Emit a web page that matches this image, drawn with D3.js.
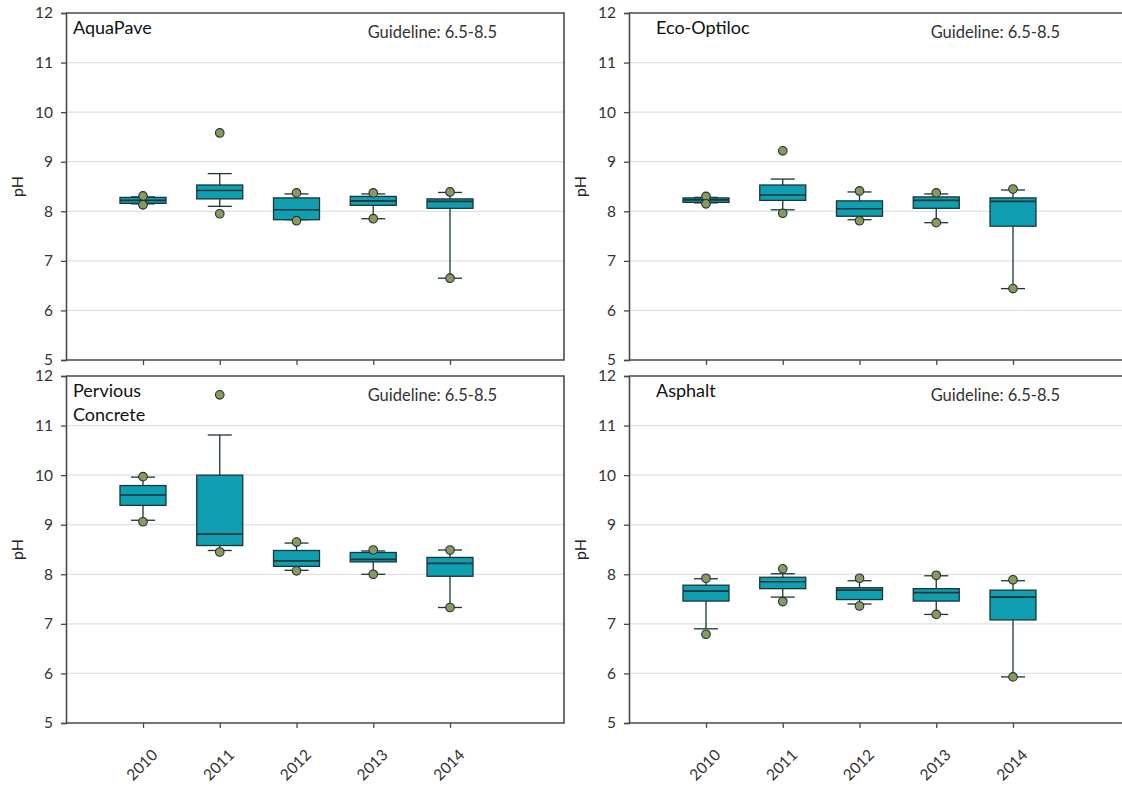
<!DOCTYPE html>
<html>
<head>
<meta charset="utf-8">
<script src="https://cdn.jsdelivr.net/npm/d3@7/dist/d3.min.js"></script>
<style>
  body { margin: 0; background: #fff; }
  svg { display: block; font-family: Lato, "Open Sans", sans-serif; }
</style>
</head>
<body>
<div id="chart"></div>
<script>
// pH box plots per pavement type, 2010-2014
// each row: [whisker low, q1, median, q3, whisker high, [dots]]
const years = ["2010", "2011", "2012", "2013", "2014"];
const yTicks = [5, 6, 7, 8, 9, 10, 11, 12];
const panelNames = [["AquaPave"], ["Eco-Optiloc"], ["Pervious", "Concrete"], ["Asphalt"]];
const guideline = "Guideline: 6.5-8.5";

const aquaPave = [
  [8.15, 8.16, 8.22, 8.28, 8.29, [8.31, 8.13]],
  [8.10, 8.25, 8.42, 8.53, 8.76, [9.58, 7.95]],
  [7.83, 7.83, 8.03, 8.27, 8.35, [8.37, 7.81]],
  [7.85, 8.12, 8.21, 8.30, 8.35, [8.37, 7.85]],
  [6.65, 8.06, 8.20, 8.25, 8.38, [8.39, 6.65]]
];
const ecoOptiloc = [
  [8.17, 8.18, 8.23, 8.27, 8.28, [8.30, 8.15]],
  [8.03, 8.22, 8.33, 8.53, 8.65, [9.22, 7.96]],
  [7.83, 7.90, 8.05, 8.21, 8.39, [8.41, 7.81]],
  [7.77, 8.06, 8.22, 8.29, 8.35, [8.37, 7.77]],
  [6.44, 7.70, 8.20, 8.27, 8.43, [8.45, 6.44]]
];
const perviousConcrete = [
  [9.09, 9.39, 9.60, 9.79, 9.96, [9.97, 9.06]],
  [8.48, 8.58, 8.81, 10.00, 10.81, [11.62, 8.45]],
  [8.08, 8.16, 8.27, 8.48, 8.63, [8.65, 8.07]],
  [8.00, 8.25, 8.30, 8.44, 8.47, [8.49, 8.00]],
  [7.33, 7.96, 8.22, 8.34, 8.49, [8.49, 7.33]]
];
const asphalt = [
  [6.90, 7.46, 7.66, 7.78, 7.91, [7.92, 6.79]],
  [7.54, 7.71, 7.85, 7.94, 8.01, [8.11, 7.45]],
  [7.40, 7.49, 7.68, 7.73, 7.87, [7.92, 7.36]],
  [7.19, 7.46, 7.63, 7.71, 7.97, [7.98, 7.19]],
  [5.93, 7.08, 7.54, 7.68, 7.87, [7.89, 5.93]]
];
const panelData = [aquaPave, ecoOptiloc, perviousConcrete, asphalt];

// layout
const W = 1122, H = 786;
const pw = 498, ph = 347;
const panelPos = [
  { x: 66, y: 13, titleX: 7, labels: false },
  { x: 629, y: 13, titleX: 27, labels: false },
  { x: 66, y: 376, titleX: 7, labels: true },
  { x: 629, y: 376, titleX: 27, labels: true }
];

const boxFill = "#0f9fb0";
const dark = "#1c3539";
const dotFill = "#8d995a";
const axisColor = "#4a4a4a";

const svg = d3.select("#chart").append("svg")
    .attr("width", W)
    .attr("height", H);

const x = d3.scalePoint().domain(years).range([77, 384]);
const y = d3.scaleLinear().domain([5, 12]).range([ph, 0]);

panelData.forEach(function (rows, i) {
    const pos = panelPos[i];
    const g = svg.append("g").attr("transform", "translate(" + pos.x + "," + pos.y + ")");

    // grid
    g.selectAll("line.grid")
        .data(yTicks.filter(function (t) { return t > 5 && t < 12; }))
        .enter().append("line")
        .attr("class", "grid")
        .attr("x1", 0).attr("x2", pw)
        .attr("y1", function (d) { return y(d); })
        .attr("y2", function (d) { return y(d); })
        .attr("stroke", "#e2e2e2")
        .attr("stroke-width", 1.2);

    // frame: top, right and bottom
    g.append("path")
        .attr("d", "M0,0H" + pw + "V" + ph + "H0")
        .attr("fill", "none")
        .attr("stroke", axisColor)
        .attr("stroke-width", 1.6);

    // axes
    const yAxis = g.append("g")
        .call(d3.axisLeft(y).tickValues(yTicks).tickSize(5).tickPadding(8).tickFormat(d3.format("d")));
    const xAxis = g.append("g")
        .attr("transform", "translate(0," + ph + ")")
        .call(d3.axisBottom(x).tickSize(5).tickFormat(pos.labels ? null : ""));
    xAxis.select(".domain").remove();
    [yAxis, xAxis].forEach(function (a) {
        a.select(".domain").attr("stroke", axisColor).attr("stroke-width", 1.6);
        a.selectAll(".tick line").attr("stroke", axisColor).attr("stroke-width", 1.3);
        a.selectAll("text").attr("fill", "#333").style("font-size", "15.5px")
            .style("font-family", "Lato, 'Open Sans', sans-serif");
    });
    if (pos.labels) {
        xAxis.selectAll("text")
            .attr("text-anchor", "end")
            .attr("x", 0).attr("y", 0)
            .attr("dy", null)
            .attr("transform", "translate(15,33) rotate(-45)");
    }

    // y title
    g.append("text")
        .attr("transform", "translate(-43," + (ph / 2) + ") rotate(-90)")
        .attr("text-anchor", "middle")
        .attr("fill", "#222")
        .style("font-size", "16px")
        .text("pH");

    // panel title
    g.append("text")
        .attr("x", pos.titleX)
        .attr("y", 21)
        .attr("fill", "#111")
        .style("font-size", "18px")
        .selectAll("tspan")
        .data(panelNames[i])
        .enter().append("tspan")
        .attr("x", pos.titleX)
        .attr("dy", function (d, j) { return j === 0 ? 0 : 24; })
        .text(function (d) { return d; });

    g.append("text")
        .attr("x", 431)
        .attr("y", 25)
        .attr("text-anchor", "end")
        .attr("fill", "#333")
        .style("font-size", "16.5px")
        .text(guideline);

    // boxes
    const bw = 46, cw = 24;
    const box = g.selectAll("g.box")
        .data(rows)
        .enter().append("g")
        .attr("class", "box")
        .attr("transform", function (d, j) { return "translate(" + x(years[j]) + ",0)"; });

    box.append("line")
        .attr("x1", 0).attr("x2", 0)
        .attr("y1", function (d) { return y(d[0]); })
        .attr("y2", function (d) { return y(d[4]); })
        .attr("stroke", dark).attr("stroke-width", 1.3);
    box.selectAll("line.cap")
        .data(function (d) { return [d[0], d[4]]; })
        .enter().append("line")
        .attr("class", "cap")
        .attr("x1", -cw / 2).attr("x2", cw / 2)
        .attr("y1", function (d) { return y(d); })
        .attr("y2", function (d) { return y(d); })
        .attr("stroke", dark).attr("stroke-width", 1.3);
    box.append("rect")
        .attr("x", -bw / 2)
        .attr("width", bw)
        .attr("y", function (d) { return y(d[3]); })
        .attr("height", function (d) { return y(d[1]) - y(d[3]); })
        .attr("fill", boxFill)
        .attr("stroke", dark).attr("stroke-width", 1.3);
    box.append("line")
        .attr("x1", -bw / 2).attr("x2", bw / 2)
        .attr("y1", function (d) { return y(d[2]); })
        .attr("y2", function (d) { return y(d[2]); })
        .attr("stroke", dark).attr("stroke-width", 1.6);
    box.selectAll("circle")
        .data(function (d) { return d[5]; })
        .enter().append("circle")
        .attr("cx", 0)
        .attr("cy", function (d) { return y(d); })
        .attr("r", 4.3)
        .attr("fill", dotFill)
        .attr("stroke", dark).attr("stroke-width", 1.1);
});
</script>
</body>
</html>
